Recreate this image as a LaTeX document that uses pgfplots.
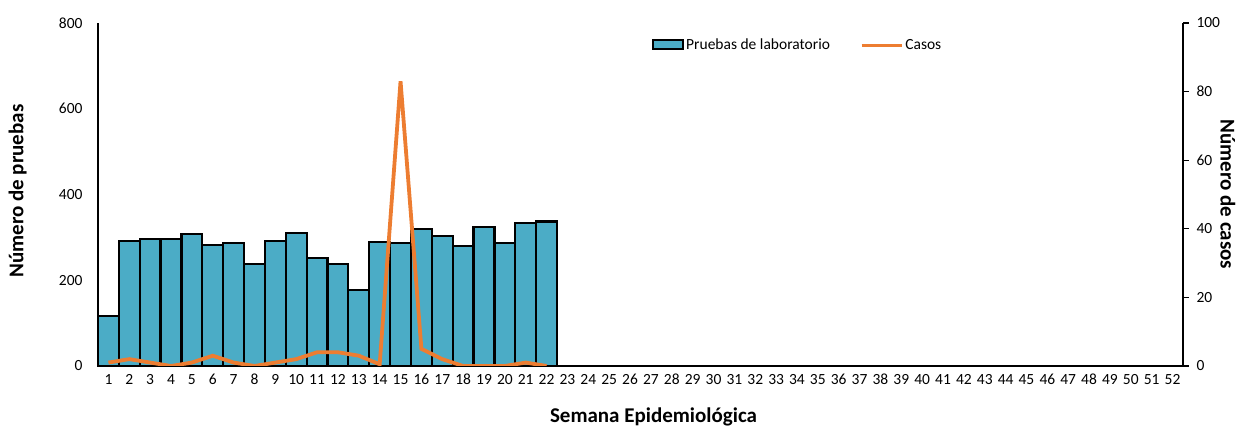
\documentclass[border=0pt]{standalone}
\usepackage{pgfplots}
\pgfplotsset{compat=1.18}
\usepackage{fontspec}
\setmainfont{Carlito}
\definecolor{barblue}{RGB}{75,172,198}
\definecolor{caseor}{RGB}{237,125,49}
\begin{document}
\begin{tikzpicture}
\useasboundingbox (-98pt,-64pt) rectangle (1139pt,366pt);
\begin{axis}[
  at={(0,0)}, anchor=south west,
  scale only axis, width=1085pt, height=343pt,
  xmin=0.5, xmax=52.5, ymin=0, ymax=800,
  axis x line*=bottom, axis y line*=left,
  ytick={0,200,400,600,800},
  xtick={1,...,52},
  major tick length=0pt,
  tick label style={font=\fontsize{15.5}{17}\selectfont},
  /pgf/number format/assume math mode=true,
  yticklabel style={xshift=-12pt},
  xticklabel style={yshift=-5pt, text height=10pt, text depth=0pt, anchor=north},
  axis line style={line width=1.2pt},
  ylabel={\bfseries Número de pruebas},
  ylabel style={font=\fontsize{21}{23}\selectfont, at={(axis description cs:-0.074,0.51)}, anchor=center},
  xlabel={\bfseries Semana Epidemiológica},
  xlabel style={font=\fontsize{21}{23}\selectfont, at={(axis description cs:0.512,-0.164)}, anchor=base},
  legend columns=2,
  legend style={at={(0.645,0.935)}, anchor=center, draw=none, fill=none,
    font=\fontsize{15.5}{17}\selectfont, /tikz/every even column/.append style={column sep=28pt}},
  clip=false,
]
\addplot[ybar, bar width=20.87pt, fill=barblue, draw=black, line width=2.2pt,
  legend image code/.code={\draw[fill=barblue, draw=black, line width=2pt] (-0.05cm,-0.13cm) rectangle (1.0cm,0.2cm);}]
coordinates {
(1,117) (2,291) (3,296) (4,296) (5,308) (6,282) (7,287) (8,238) (9,291) (10,310)
(11,252) (12,238) (13,177) (14,289) (15,287) (16,320) (17,304) (18,280) (19,325) (20,286)
(21,333) (22,337)
};
\addlegendentry{Pruebas de laboratorio}
\addlegendimage{caseor, line width=3.5pt, legend image code/.code={\draw[caseor, line width=3.5pt] (-0.1cm,0cm) -- (1.3cm,0cm);}}
\addlegendentry{Casos}
\end{axis}
\begin{axis}[
  at={(0,0)}, anchor=south west,
  scale only axis, width=1085pt, height=343pt,
  xmin=0.5, xmax=52.5, ymin=0, ymax=100,
  axis x line=none, axis y line*=right,
  ytick={0,20,40,60,80,100},
  tick align=outside, major tick length=6pt,
  tick style={black, line width=1.2pt},
  tick label style={font=\fontsize{15.5}{17}\selectfont},
  /pgf/number format/assume math mode=true,
  yticklabel style={xshift=4pt},
  axis line style={line width=1.2pt},
  ylabel={\bfseries Número de casos},
  ylabel style={font=\fontsize{21}{23}\selectfont, at={(axis description cs:1.0415,0.5)}, anchor=center, rotate=180},
]
\addplot[caseor, line width=3.8pt, sharp plot, mark=none] coordinates {
(1,1) (2,2) (3,1) (4,0) (5,1) (6,3) (7,1) (8,0) (9,1) (10,2)
(11,4) (12,4) (13,3) (14,0.5) (15,83) (16,5) (17,2) (18,0) (19,0) (20,0)
(21,1) (22,0)
};
\end{axis}
\end{tikzpicture}
\end{document}
